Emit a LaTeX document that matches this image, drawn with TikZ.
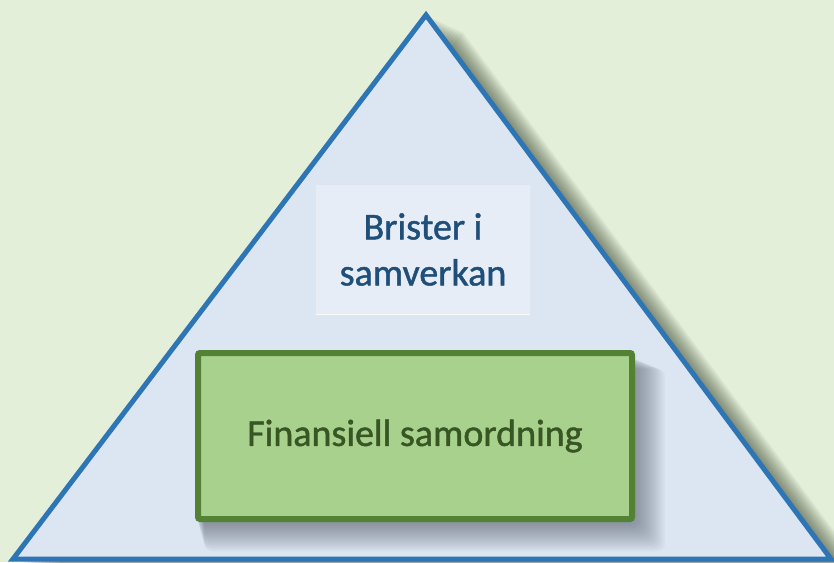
\documentclass[tikz,border=0pt]{standalone}
\usepackage{fontspec}
\setmainfont[FakeBold=1.2]{Carlito}
\definecolor{bggreen}{HTML}{E3EFD8}
\definecolor{trifill}{HTML}{DCE6F2}
\definecolor{triline}{HTML}{2E75B6}
\definecolor{boxfill}{HTML}{E6EDF7}
\definecolor{bluetext}{HTML}{1F4E79}
\definecolor{greenfill}{HTML}{A9D18E}
\definecolor{greenline}{HTML}{548235}
\definecolor{greentext}{HTML}{375623}
\definecolor{shadowcol}{HTML}{2A3520}
\definecolor{boxshadowcol}{HTML}{3A4150}
\tikzset{
  labelbox/.style={fill=boxfill, text=bluetext, align=center, inner sep=0pt,
    minimum width=214pt, minimum height=129pt, font=\fontsize{38}{46}\selectfont},
  greenbox/.style={fill=greenfill, draw=greenline, line width=6pt, text=greentext,
    rounded corners=2pt, minimum width=434pt, minimum height=166pt, inner sep=0pt,
    font=\fontsize{38}{44}\selectfont},
  softshade/.style={fill=shadowcol, opacity=0.05},
  boxshade/.style={fill=boxshadowcol, opacity=0.045, rounded corners=8pt},
}
\begin{document}
\begin{tikzpicture}[x=1pt,y=-1pt]
  \fill[bggreen] (0,0) rectangle (834,562);
  \useasboundingbox (0,0) rectangle (834,562);
  % soft shadow of the triangle
  \foreach \i in {1,...,14}{
    \fill[softshade] (426+\i*2.6,15+\i*1.2) -- (831+\i*2.6,559+\i*1.2) -- (13+\i*2.6,559+\i*1.2) -- cycle;
  }
  \coordinate (apex) at (426,15);
  \coordinate (bl) at (13,559);
  \coordinate (br) at (831,559);
  \draw[fill=trifill, draw=triline, line width=5pt, line join=miter] (apex) -- (br) -- (bl) -- cycle;
  \node[labelbox] (brister) at (423,249.5) {Brister i\\samverkan};
  \draw[white!80!trifill, line width=1pt] (brister.south west) -- (brister.south east);
  % soft shadow of the green box
  \foreach \i in {1,...,14}{
    \fill[boxshade] (196+\i*0.6,356+\i*0.9) rectangle (634+\i*2.2,522+\i*2.1);
  }
  \node[greenbox] (fin) at (415,436) {Finansiell samordning};
\end{tikzpicture}
\end{document}
